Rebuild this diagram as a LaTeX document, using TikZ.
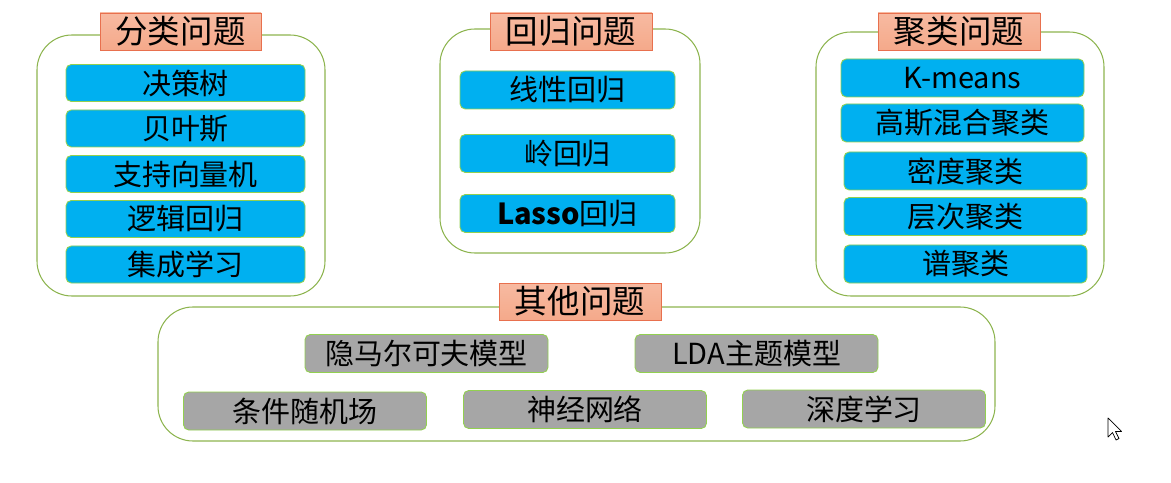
\documentclass[tikz,border=0pt]{standalone}
\usepackage{fontspec}
\setmainfont{Noto Sans CJK SC}
\definecolor{itemblue}{HTML}{00B0F0}
\definecolor{itemgray}{HTML}{A6A6A6}
\definecolor{framegreen}{HTML}{8DB44F}
\definecolor{itemgreen}{HTML}{92D050}
\definecolor{titlefill}{HTML}{F5A98A}
\definecolor{titleborder}{HTML}{E8704E}
\tikzset{
  frame/.style={draw=framegreen, line width=0.6pt, rounded corners=0.7cm},
  titlebox/.style={draw=titleborder, line width=0.5pt, top color=titlefill!80!white, bottom color=titlefill, font=\fontsize{18.5}{20}\selectfont, inner sep=0pt},
  bluebox/.style={draw=itemgreen, line width=0.5pt, fill=itemblue, rounded corners=3pt, font=\fontsize{16.5}{18}\selectfont, inner sep=0pt},
  graybox/.style={draw=itemgreen, line width=0.5pt, fill=itemgray, rounded corners=3pt, font=\fontsize{16.5}{18}\selectfont, inner sep=0pt},
}
\begin{document}
\begin{tikzpicture}[x=0.02cm, y=-0.02cm]
\useasboundingbox (0,0) rectangle (1171,483);
% frames
\draw[frame] (37,35) rectangle (325,296);
\draw[frame] (440,29) rectangle (700,253);
\draw[frame] (816,32) rectangle (1104,296);
\draw[frame] (158,307) rectangle (995,441);
% titles
\node[titlebox, minimum width=161*0.02cm, minimum height=37*0.02cm] (t1) at (180.5,31.5) {分类问题};
\node[titlebox, minimum width=162*0.02cm, minimum height=37*0.02cm] (t2) at (571,31.5) {回归问题};
\node[titlebox, minimum width=162*0.02cm, minimum height=37*0.02cm] (t3) at (959,31.5) {聚类问题};
\node[titlebox, minimum width=162*0.02cm, minimum height=37*0.02cm] (t4) at (580,301.5) {其他问题};
% classification
\tikzset{cw/.style={minimum width=239*0.02cm, minimum height=37*0.02cm}}
\node[bluebox, cw] (c1) at (185.5,83) {决策树};
\node[bluebox, cw] (c2) at (185.5,128.5) {贝叶斯};
\node[bluebox, cw] (c3) at (185.5,174) {支持向量机};
\node[bluebox, cw] (c4) at (185.5,219) {逻辑回归};
\node[bluebox, cw] (c5) at (185.5,264.5) {集成学习};
% regression
\tikzset{rw/.style={minimum width=215*0.02cm, minimum height=38*0.02cm}}
\node[bluebox, rw] (r1) at (567.5,90) {线性回归};
\node[bluebox, rw] (r2) at (567.5,153.5) {岭回归};
\node[bluebox, rw] (r3) at (567.5,213.5) {\textbf{Lasso}回归};
% clustering
\tikzset{kw/.style={minimum width=243*0.02cm, minimum height=38*0.02cm}}
\node[bluebox, kw] (k1) at (962.5,78) {K-means};
\node[bluebox, kw] (k2) at (962.5,123) {高斯混合聚类};
\node[bluebox, kw] (k3) at (965.5,171) {密度聚类};
\node[bluebox, kw] (k4) at (965.5,216.5) {层次聚类};
\node[bluebox, kw] (k5) at (965.5,264) {谱聚类};
% others
\tikzset{ow/.style={minimum width=243*0.02cm, minimum height=38*0.02cm}}
\node[graybox, ow] (o1) at (426.5,353.5) {隐马尔可夫模型};
\node[graybox, ow] (o2) at (756.5,353.5) {LDA主题模型};
\node[graybox, ow] (o3) at (305,411) {条件随机场};
\node[graybox, ow] (o4) at (585,409.5) {神经网络};
\node[graybox, ow] (o5) at (864,409) {深度学习};
% mouse cursor
\draw[black, fill=white, line width=0.4pt, line join=round]
  (1108,418) -- (1108,437) -- (1112.5,432.5) -- (1116,440) -- (1119,438.5) -- (1115.5,431.5) -- (1121.5,431.5) -- cycle;
\end{tikzpicture}
\end{document}
